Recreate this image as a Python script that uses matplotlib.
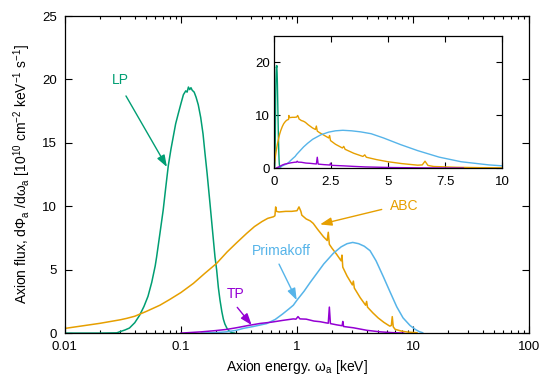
import matplotlib
matplotlib.use("Agg")
import matplotlib.pyplot as plt
import numpy as np
from matplotlib.ticker import LogLocator, NullFormatter

plt.rcParams['font.family'] = ['Liberation Sans', 'DejaVu Sans']
plt.rcParams['mathtext.fontset'] = 'custom'
plt.rcParams['mathtext.rm'] = 'Liberation Sans'

# colours (gnuplot default palette)
c_lp = '#009e73'
c_abc = '#e69f00'
c_pri = '#56b4e9'
c_tp = '#9400d3'

# LP flux (keV, 1e10 cm^-2 keV^-1 s^-1)
lp_x = [0.01, 0.02, 0.028, 0.030, 0.033, 0.036, 0.040, 0.044, 0.048, 0.052,
        0.056, 0.060, 0.0617, 0.066, 0.0703, 0.074, 0.0778, 0.082, 0.0859, 0.090,
        0.0948, 0.100, 0.105, 0.110, 0.113, 0.116, 0.119, 0.122, 0.125, 0.130,
        0.135, 0.141, 0.148, 0.155, 0.161, 0.168, 0.178, 0.187, 0.1965, 0.203,
        0.210, 0.217, 0.225, 0.232, 0.239, 0.250, 0.261, 0.275, 0.29]
lp_y = [0, 0, 0.02, 0.12, 0.25, 0.4, 0.82, 1.4, 2.1, 2.9,
        4.0, 5.3, 6.0, 7.9, 9.7, 11.5, 13.2, 14.5, 15.5, 16.5,
        17.3, 18.1, 18.8, 19.1, 19.0, 19.4, 19.2, 19.35, 19.15, 19.0,
        18.6, 18.0, 17.0, 15.7, 14.2, 12.6, 10.2, 8.1, 6.0, 5.0,
        3.6, 2.6, 1.7, 1.1, 0.72, 0.35, 0.15, 0.03, 0]

# ABC flux
abc_x = [0.01, 0.02, 0.03, 0.034, 0.04, 0.0443, 0.05, 0.0659, 0.08, 0.1,
         0.128, 0.16, 0.203, 0.25, 0.30, 0.368, 0.43, 0.50, 0.56, 0.625,
         0.645, 0.655, 0.665, 0.70, 0.80, 0.90, 1.0, 1.04, 1.08, 1.1,
         1.2, 1.3, 1.38, 1.5, 1.69, 1.82, 1.86, 1.9, 2.0, 2.2,
         2.4, 2.44, 2.48, 2.7, 3.0, 3.06, 3.12, 3.5, 3.9, 3.98,
         4.05, 4.5, 5.0, 5.6, 6.3, 6.5, 6.62, 6.75, 7.0, 8.0,
         9.0, 10.8]
abc_y = [0.37, 0.77, 1.05, 1.16, 1.33, 1.5, 1.7, 2.2, 2.65, 3.2,
         3.92, 4.7, 5.5, 6.4, 7.1, 7.86, 8.4, 8.8, 9.05, 9.17,
         9.25, 9.95, 9.6, 9.55, 9.6, 9.6, 9.65, 9.95, 9.6, 9.3,
         9.0, 8.85, 8.65, 8.2, 7.6, 7.3, 7.95, 7.0, 6.7, 6.2,
         5.7, 6.15, 5.2, 4.5, 3.8, 4.1, 3.55, 2.8, 2.2, 2.5,
         2.05, 1.6, 1.2, 0.85, 0.55, 0.6, 1.3, 0.5, 0.3, 0.15,
         0.08, 0.03]

# Primakoff flux
pri_x = [0.15, 0.2, 0.247, 0.3, 0.344, 0.42, 0.548, 0.65, 0.75, 0.85,
         0.93, 1.0, 1.15, 1.3, 1.48, 1.7, 2.06, 2.4, 2.7, 3.02,
         3.4, 3.8, 4.26, 4.8, 5.55, 6.3, 7.24, 8.2, 9.42, 10.5,
         11.3, 12.1]
pri_y = [0.0, 0.04, 0.1, 0.22, 0.37, 0.52, 0.75, 1.08, 1.5, 1.9,
         2.2, 2.6, 3.3, 4.0, 4.7, 5.45, 6.3, 6.8, 7.05, 7.15,
         7.05, 6.85, 6.5, 5.7, 4.44, 3.3, 2.07, 1.2, 0.6, 0.28,
         0.12, 0.03]

# TP flux
tp_x = [0.1, 0.15, 0.2, 0.247, 0.3, 0.38, 0.48, 0.6, 0.75, 0.93,
        0.98, 1.02, 1.06, 1.2, 1.4, 1.58, 1.8, 1.86, 1.9, 1.94,
        2.2, 2.45, 2.48, 2.52, 3.06, 3.5, 4.0, 5.2, 6.5, 8.3]
tp_y = [0.0, 0.1, 0.2, 0.29, 0.42, 0.6, 0.76, 0.86, 1.0, 1.12,
        1.1, 1.3, 1.12, 1.1, 0.95, 0.9, 0.8, 0.78, 2.05, 0.75,
        0.65, 0.58, 0.92, 0.52, 0.42, 0.32, 0.22, 0.1, 0.04, 0.0]

series = [(lp_x, lp_y, c_lp), (abc_x, abc_y, c_abc),
          (pri_x, pri_y, c_pri), (tp_x, tp_y, c_tp)]

fig = plt.figure(figsize=(5.5, 3.82), dpi=100)
ax = fig.add_axes([0.118, 0.128, 0.844, 0.830])

for xs, ys, col in series:
    ax.plot(xs, ys, color=col, lw=1.1)

ax.set_xscale('log')
ax.set_xlim(0.01, 100)
ax.set_ylim(0, 25)
ax.set_xticks([0.01, 0.1, 1, 10, 100])
ax.set_xticklabels(['0.01', '0.1', '1', '10', '100'])
ax.xaxis.set_minor_locator(LogLocator(base=10, subs=np.arange(2, 10)))
ax.xaxis.set_minor_formatter(NullFormatter())
ax.set_yticks([0, 5, 10, 15, 20, 25])
ax.tick_params(which='both', direction='in', top=True, right=True,
               labelsize=9.5, width=0.8, pad=6)
ax.tick_params(which='major', length=5)
ax.tick_params(which='minor', length=2.5)
for s in ax.spines.values():
    s.set_linewidth(0.9)

ax.set_xlabel('Axion energy. ω$_\\mathregular{a}$ [keV]', fontsize=10, labelpad=3)
ax.set_ylabel('Axion flux, dΦ$_\\mathregular{a}$ /dω$_\\mathregular{a}$ '
              '[10$^\\mathregular{10}$ cm$^\\mathregular{-2}$ keV$^\\mathregular{-1}$ '
              's$^\\mathregular{-1}$]', fontsize=10, labelpad=6)

# labels with arrows
arrow = dict(arrowstyle='-|>,head_length=0.7,head_width=0.25', lw=1.0,
             shrinkA=0, shrinkB=0, mutation_scale=10)
ax.text(0.0298, 19.95, 'LP', color=c_lp, fontsize=10, ha='center', va='center')
ax.annotate('', xy=(0.0757, 13.1), xytext=(0.0336, 18.7),
            arrowprops=dict(arrow, color=c_lp))
ax.text(8.35, 10.0, 'ABC', color=c_abc, fontsize=10, ha='center', va='center')
ax.annotate('', xy=(1.58, 8.57), xytext=(5.37, 9.75),
            arrowprops=dict(arrow, color=c_abc))
ax.text(0.727, 6.47, 'Primakoff', color=c_pri, fontsize=10, ha='center', va='center')
ax.annotate('', xy=(0.994, 2.6), xytext=(0.70, 5.44),
            arrowprops=dict(arrow, color=c_pri))
ax.text(0.298, 3.08, 'TP', color=c_tp, fontsize=10, ha='center', va='center')
ax.annotate('', xy=(0.407, 0.63), xytext=(0.3056, 2.03),
            arrowprops=dict(arrow, color=c_tp))

# inset, linear energy axis
ins = fig.add_axes([0.498, 0.560, 0.415, 0.346])
for xs, ys, col in series:
    ins.plot(xs, ys, color=col, lw=1.0)
ins.set_xlim(0, 10)
ins.set_ylim(0, 25)
ins.set_xticks([0, 2.5, 5, 7.5, 10])
ins.set_xticklabels(['0', '2.5', '5', '7.5', '10'])
ins.set_yticks([0, 10, 20])
ins.tick_params(direction='in', top=True, right=True, labelsize=9.5,
                length=4, width=0.8)
ins.tick_params(axis='x', pad=6)
ins.tick_params(axis='y', pad=3)
for s in ins.spines.values():
    s.set_linewidth(0.9)

fig.savefig('out.png', dpi=100)
